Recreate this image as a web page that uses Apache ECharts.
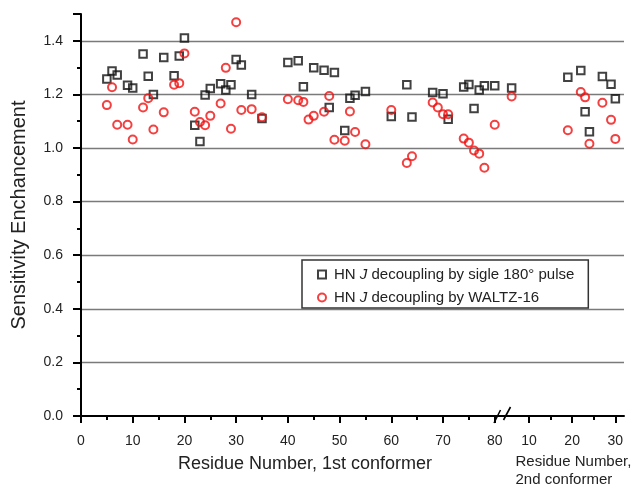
<!DOCTYPE html>
<html>
<head>
<meta charset="utf-8">
<title>Sensitivity Enchancement</title>
<script src="https://cdn.jsdelivr.net/npm/echarts@6/dist/echarts.min.js"></script>
<style>
  html, body { margin: 0; padding: 0; background: #fff; }
  #chart { width: 631px; height: 484px; }
</style>
</head>
<body>
<div id="chart"></div>
<script>
// 1st conformer residues; null = no point for that series
const residues1 = [5, 6, 7, 9, 10, 12, 13, 14, 16, 18, 19, 20, 22, 23, 24, 25, 27, 28, 29, 30, 31, 33, 35,
  40, 42, 43, 44, 45, 47, 48, 49, 51, 52, 53, 55, 60, 63, 64, 68, 69, 70, 71, 74, 75, 76, 77, 78, 80]
const single1 = [1.257, 1.287, 1.272, 1.234, 1.224, 1.351, 1.268, 1.2, 1.338, 1.27, 1.343, 1.41, 1.085, 1.024, 1.198, 1.222, 1.24, 1.216, 1.236, 1.33, 1.31, 1.2, 1.11,
  1.319, 1.326, 1.229, null, 1.299, 1.29, 1.151, 1.282, 1.065, 1.186, 1.197, 1.211, 1.118, 1.236, 1.116, 1.207, null, 1.202, 1.107, 1.228, 1.237, 1.147, 1.216, 1.232, 1.232]
const waltz1 = [1.16, 1.227, 1.087, 1.087, 1.032, 1.151, 1.186, 1.069, 1.133, 1.236, 1.242, 1.353, 1.135, 1.097, 1.085, 1.12, 1.166, 1.299, 1.072, 1.469, 1.142, 1.145, 1.115,
  1.182, 1.178, 1.172, 1.106, 1.12, 1.135, 1.194, 1.031, 1.027, 1.136, 1.06, 1.014, 1.142, 0.944, 0.969, 1.17, 1.151, 1.126, 1.126, 1.035, 1.02, 0.991, 0.979, 0.926, 1.087]

// 2nd conformer
const residues2 = [6, 19, 22, 23, 24, 27, 29, 30]
const single2 = [1.224, 1.264, 1.289, 1.135, 1.061, 1.267, 1.238, 1.184]
const waltz2 = [1.192, 1.066, 1.209, 1.189, 1.016, 1.169, 1.105, 1.034]

const xTicks1 = [0, 10, 20, 30, 40, 50, 60, 70, 80]
const xMinor1 = [5, 15, 25, 35, 45, 55, 65, 75]
const xTicks2 = [10, 20, 30]
const xMinor2 = [15, 25]

const nameSingle = 'HN J decoupling by sigle 180° pulse'
const nameWaltz = 'HN J decoupling by WALTZ-16'

const pairs = (xs, ys) => xs.map((x, i) => [x, ys[i]]).filter((p) => p[1] !== null)

const font = 'Liberation Sans, Arial, sans-serif'
const textColor = '#222'

const chart = echarts.init(document.getElementById('chart'))

const squareStyle = { color: 'rgba(0,0,0,0)', borderColor: '#111', borderWidth: 2 }
const circleStyle = { color: 'rgba(0,0,0,0)', borderColor: '#f01010', borderWidth: 2 }

const mainX = (gridIndex, min, max, ticks, extra) => Object.assign({
  type: 'value',
  gridIndex: gridIndex,
  position: 'bottom',
  min: min,
  max: max,
  axisLine: { show: true, onZero: false, lineStyle: { color: '#000', width: 2 } },
  axisTick: { show: true, customValues: ticks, length: 7, lineStyle: { color: '#000', width: 2 } },
  axisLabel: { customValues: ticks, margin: 18, fontSize: 14, color: textColor, fontFamily: font },
  splitLine: { show: false }
}, extra)

const minorX = (gridIndex, min, max, ticks) => ({
  type: 'value',
  gridIndex: gridIndex,
  position: 'bottom',
  min: min,
  max: max,
  axisLine: { show: false },
  axisTick: { show: true, customValues: ticks, length: 4, lineStyle: { color: '#000', width: 2 } },
  axisLabel: { show: false },
  splitLine: { show: false }
})

chart.setOption({
  animation: false,
  backgroundColor: '#fff',
  textStyle: { fontFamily: font },
  grid: [
    { left: 81, right: 128, top: 14, bottom: 68, outerBoundsMode: 'none', containLabel: false },
    { left: 503, right: 7, top: 14, bottom: 68, outerBoundsMode: 'none', containLabel: false }
  ],
  xAxis: [
    mainX(0, 0, 81.6, xTicks1, {
      name: 'Residue Number, 1st conformer',
      nameLocation: 'middle',
      nameGap: 39,
      nameTextStyle: { fontSize: 18, color: textColor, fontFamily: font, padding: [0, 0, 0, 26] }
    }),
    minorX(0, 0, 81.6, xMinor1),
    mainX(1, 4, 32, xTicks2, {
      name: 'Residue Number,\n2nd conformer',
      nameLocation: 'middle',
      nameGap: 37,
      nameTextStyle: { fontSize: 15, lineHeight: 18, color: textColor, fontFamily: font, align: 'left', padding: [0, 0, 0, -48] }
    }),
    minorX(1, 4, 32, xMinor2)
  ],
  yAxis: [
    {
      type: 'value',
      gridIndex: 0,
      min: 0,
      max: 1.5,
      interval: 0.2,
      name: 'Sensitivity Enchancement',
      nameLocation: 'middle',
      nameGap: 52,
      nameTextStyle: { fontSize: 20, color: textColor, fontFamily: font },
      axisLine: { show: true, lineStyle: { color: '#000', width: 2 } },
      axisTick: { show: true, length: 8, lineStyle: { color: '#000', width: 2 } },
      minorTick: { show: true, splitNumber: 2, length: 4, lineStyle: { color: '#000', width: 2 } },
      axisLabel: {
        margin: 18, fontSize: 14, color: textColor, fontFamily: font,
        showMaxLabel: false,
        formatter: (v) => v.toFixed(1)
      },
      splitLine: { show: true, showMaxLine: false, showMinLine: false, lineStyle: { color: '#7a7a7a', width: 1.3 } }
    },
    {
      type: 'value',
      gridIndex: 1,
      min: 0,
      max: 1.5,
      interval: 0.2,
      axisLine: { show: false },
      axisTick: { show: false },
      axisLabel: { show: false },
      splitLine: { show: true, showMaxLine: false, showMinLine: false, lineStyle: { color: '#7a7a7a', width: 1.3 } }
    }
  ],
  legend: {
    data: [
      { name: nameSingle, icon: 'rect' },
      { name: nameWaltz, icon: 'circle' }
    ],
    orient: 'vertical',
    left: 302,
    top: 260,
    padding: [7, 14, 3, 15],
    itemGap: 8,
    itemWidth: 8,
    itemHeight: 8,
    backgroundColor: '#fff',
    borderColor: '#333',
    borderWidth: 1.5,
    borderRadius: 0,
    formatter: (name) => name.replace(' J ', ' {i|J} '),
    textStyle: {
      fontSize: 15, color: textColor, fontFamily: font, padding: [0, 0, 0, 3],
      rich: { i: { fontSize: 15, fontStyle: 'italic', color: textColor, fontFamily: font } }
    }
  },
  graphic: [
    // axis break marks
    { type: 'line', shape: { x1: 494, y1: 423, x2: 500.5, y2: 410 }, style: { stroke: '#000', lineWidth: 1.6 }, z: 100 },
    { type: 'line', shape: { x1: 503.5, y1: 420, x2: 510.5, y2: 407 }, style: { stroke: '#000', lineWidth: 1.6 }, z: 100 }
  ],
  series: [
    {
      name: nameSingle, type: 'scatter', xAxisIndex: 0, yAxisIndex: 0,
      symbol: 'rect', symbolSize: 7.5, itemStyle: squareStyle,
      data: pairs(residues1, single1)
    },
    {
      name: nameSingle, type: 'scatter', xAxisIndex: 2, yAxisIndex: 1,
      symbol: 'rect', symbolSize: 7.5, itemStyle: squareStyle,
      data: pairs(residues2, single2)
    },
    {
      name: nameWaltz, type: 'scatter', xAxisIndex: 0, yAxisIndex: 0,
      symbol: 'circle', symbolSize: 8, itemStyle: circleStyle,
      data: pairs(residues1, waltz1)
    },
    {
      name: nameWaltz, type: 'scatter', xAxisIndex: 2, yAxisIndex: 1,
      symbol: 'circle', symbolSize: 8, itemStyle: circleStyle,
      data: pairs(residues2, waltz2)
    }
  ]
})
</script>
</body>
</html>
